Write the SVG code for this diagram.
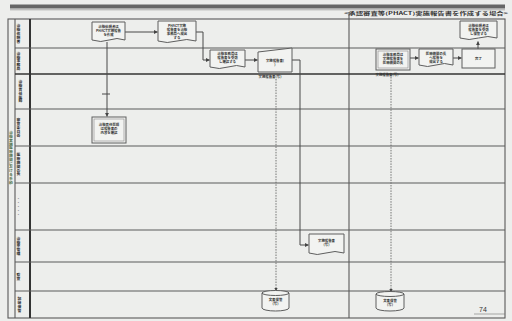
<svg xmlns="http://www.w3.org/2000/svg" width="512" height="321" viewBox="0 0 512 321">
<defs>
<marker id="ah" viewBox="0 0 6 6" refX="5.5" refY="3" markerWidth="4" markerHeight="4" orient="auto"><path d="M0,0 L6,3 L0,6 Z" fill="#444"/></marker>
<style>
.bg{fill:#edeeec}
.lane{stroke:#5a5a5a;stroke-width:1.1;fill:none}
.thick{stroke:#333;stroke-width:2;fill:none}
.node{fill:#f2f3f1;stroke:#5e5e5e;stroke-width:1}
.conn{stroke:#484848;stroke-width:1;fill:none}
.dash{stroke:#666;stroke-width:0.9;fill:none;stroke-dasharray:1.5 1.2}
.t{font-family:"Noto Sans CJK JP","Noto Sans",sans-serif;font-size:3.4px;fill:#333;text-anchor:middle;font-weight:bold}
.lt{font-family:"Noto Sans CJK JP","Noto Sans",sans-serif;font-size:3.8px;fill:#2a2a2a;font-weight:bold;writing-mode:vertical-rl;text-anchor:middle}
</style>
</defs>
<rect class="bg" x="0" y="0" width="512" height="321"/>
<!-- top bar and title -->
<rect x="10" y="4.5" width="495" height="4" fill="#666"/>
<line x1="10" y1="9.8" x2="505" y2="9.8" stroke="#aaa" stroke-width="1"/>
<text x="426" y="14.8" class="t" style="font-size:4.4px" textLength="164" lengthAdjust="spacingAndGlyphs">&lt;承認審査等(PHACT)実施報告書を作成する場合&gt;</text>
<!-- frame and lanes -->
<g id="frame">
<rect class="lane" x="8" y="19" width="497" height="299"/>
<line class="lane" x1="15" y1="19" x2="15" y2="318"/>
<line class="thick" x1="30" y1="19" x2="30" y2="318"/>
<line class="lane" x1="349" y1="12" x2="349" y2="318"/>
<line class="lane" x1="15" y1="48" x2="505" y2="48"/>
<line class="thick" x1="15" y1="74" x2="505" y2="74" style="stroke-width:1.4"/>
<line class="lane" x1="15" y1="109" x2="505" y2="109"/>
<line class="lane" x1="15" y1="146" x2="505" y2="146"/>
<line class="lane" x1="15" y1="183" x2="505" y2="183"/>
<line class="lane" x1="15" y1="230" x2="505" y2="230"/>
<line class="lane" x1="15" y1="262" x2="505" y2="262"/>
<line class="lane" x1="15" y1="291" x2="505" y2="291"/>
</g>
<g id="lane-labels">
<text class="lt" x="18.5" y="33.5">治験依頼者</text>
<text class="lt" x="18.5" y="61">治験事務局</text>
<text class="lt" x="20.5" y="91.5">治験責任医師</text>
<text class="lt" x="18.5" y="127.5">審査委員会</text>
<text class="lt" x="18.5" y="164.5">医療機関の長</text>
<text class="lt" x="18.5" y="206.5" style="fill:#8a8a8a">・・・・・</text>
<text class="lt" x="18.5" y="246">治験薬管理</text>
<text class="lt" x="18.5" y="276.5">監査</text>
<text class="lt" x="19.5" y="304.5">記録保管</text>
<text class="lt" x="11" y="157.5" style="fill:#4f6e48">治験実施医療機関における手続</text>
</g>
<!-- connectors -->
<g id="connectors">
<path class="conn" d="M125,32 H157.5" marker-end="url(#ah)"/>
<path class="conn" d="M196,32 H203 V60 H209.5" marker-end="url(#ah)"/>
<path class="conn" d="M245,60 H257.5" marker-end="url(#ah)"/>
<path class="conn" d="M291,60 H300 V245 H308.5" marker-end="url(#ah)"/>
<path class="conn" d="M107,42 V116.5" marker-end="url(#ah)"/>
<line class="conn" x1="102" y1="94" x2="110" y2="94"/>
<path class="dash" d="M276,79 V291" marker-end="url(#ah)"/>
<path class="dash" d="M391,77 V292" marker-end="url(#ah)"/>
<path class="conn" d="M410,58 H418.5" marker-end="url(#ah)"/>
<path class="conn" d="M453,58 H461.5" marker-end="url(#ah)"/>
<path class="conn" d="M478,49 V41.5" marker-end="url(#ah)"/>
</g>
<!-- nodes -->
<g id="nodeA"><path class="node" d="M92,22 H125 V40 Q117,37 109,40 T92,40 Z"/>
<text class="t" x="108.5" y="28">治験依頼者は</text><text class="t" x="108.5" y="32">PHACT実施報告</text><text class="t" x="108.5" y="36">を作成</text></g>
<g id="nodeB"><path class="node" d="M158,21 H196 V41 Q187,38 177,41 T158,41 Z"/>
<text class="t" x="177" y="26.5">PHACT実施</text><text class="t" x="177" y="30.5">報告書を治験</text><text class="t" x="177" y="34.5">事務局へ提出</text><text class="t" x="177" y="38.5">する</text></g>
<g id="nodeC"><path class="node" d="M210,50 H245 V67 Q236.5,64 228,67 T210,67 Z"/>
<text class="t" x="227.5" y="55">治験事務局は</text><text class="t" x="227.5" y="59">報告書を受領</text><text class="t" x="227.5" y="63">し確認する</text></g>
<g id="nodeD"><path class="node" d="M258,52 L292,48 V72 H258 Z"/>
<text class="t" x="275" y="61.5">実施報告書(</text><text class="t" x="275" y="65.5">)</text>
<text class="t" x="270" y="77.5">実施報告書(写)</text></g>
<g id="nodeE"><path class="node" d="M309,234 H344 V253 Q335,250 326,253 T309,253 Z"/>
<text class="t" x="326.5" y="241.5">実施報告書</text><text class="t" x="326.5" y="245.5">(写)</text></g>
<g id="nodeF"><rect class="node" x="92" y="117" width="34" height="26"/><rect x="94" y="119" width="30" height="22" fill="none" stroke="#888" stroke-width="0.6"/>
<text class="t" x="109" y="126">治験責任医師</text><text class="t" x="109" y="130">は報告書の</text><text class="t" x="109" y="134">内容を確認</text></g>
<g id="db1"><path class="node" d="M262,293 V308 A13.5,3 0 0 0 289,308 V293"/><ellipse class="node" cx="275.5" cy="293" rx="13.5" ry="2.5"/>
<text class="t" x="275.5" y="301">文書保管</text><text class="t" x="275.5" y="305">(写)</text></g>
<g id="nodeG"><rect class="node" x="376" y="49" width="34" height="21"/><rect x="378" y="51" width="30" height="17" fill="none" stroke="#888" stroke-width="0.6"/>
<text class="t" x="393" y="56">治験事務局は</text><text class="t" x="393" y="60">実施報告書を</text><text class="t" x="393" y="64">医療機関の長</text>
<text class="t" x="387" y="75.5">実施報告書(写)</text></g>
<g id="nodeH"><path class="node" d="M419,49 H453 V65 Q444.5,62 436,65 T419,65 Z"/>
<text class="t" x="436" y="54.5">医療機関の長</text><text class="t" x="436" y="58.5">へ報告を</text><text class="t" x="436" y="62.5">提出する</text></g>
<g id="nodeI"><rect class="node" x="462" y="49" width="33" height="19"/>
<text class="t" x="478.5" y="59.5">完了</text></g>
<g id="nodeJ"><path class="node" d="M460,21 H497 V38 Q488,35 478.5,38 T460,38 Z"/>
<text class="t" x="478.5" y="26.5">治験依頼者は</text><text class="t" x="478.5" y="30.5">報告書を受領</text><text class="t" x="478.5" y="34.5">し保管する</text></g>
<g id="db2"><path class="node" d="M376,294 V308 A14,3 0 0 0 404,308 V294"/><ellipse class="node" cx="390" cy="294" rx="14" ry="2.5"/>
<text class="t" x="390" y="301.5">文書保管</text><text class="t" x="390" y="305.5">(写)</text></g>
<text x="483" y="312" style="font-family:'Liberation Sans',sans-serif;font-size:7px;fill:#333;text-anchor:middle">74</text>
<line x1="474" y1="314" x2="505" y2="314" stroke="#777" stroke-width="0.6"/>
</svg>
